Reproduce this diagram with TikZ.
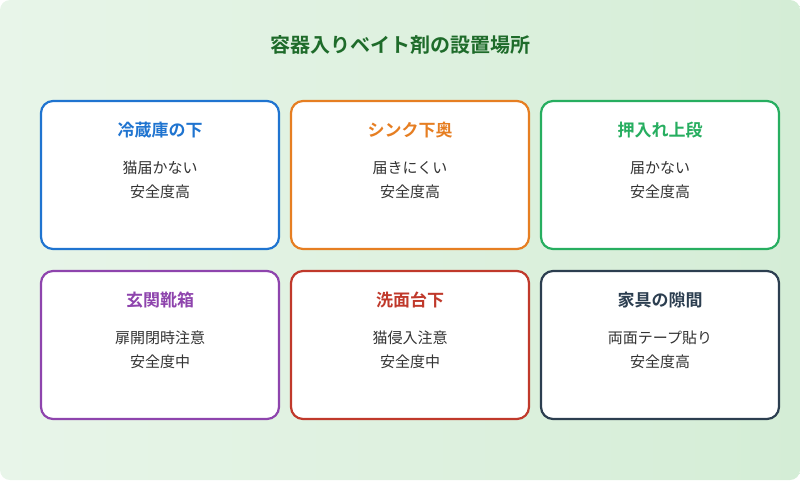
\documentclass[tikz,border=0pt]{standalone}
\usepackage{fontspec}
\setmainfont{Noto Sans CJK JP}
\newfontfamily\jpb{Noto Sans CJK JP Bold}
\definecolor{cblue}{HTML}{1F74D0}
\definecolor{corange}{HTML}{E67E22}
\definecolor{cgreen}{HTML}{27AE60}
\definecolor{cpurple}{HTML}{8E44AD}
\definecolor{cred}{HTML}{C0392B}
\definecolor{cdark}{HTML}{2C3E50}
\definecolor{ctitle}{HTML}{1E6B2A}
\definecolor{bgA}{HTML}{E8F5E9}
\definecolor{bgB}{HTML}{D4EDD6}
\definecolor{body}{HTML}{333333}
\begin{document}
\begin{tikzpicture}[x=1pt,y=-1pt,
 card/.style={draw=#1,line width=2.2pt,fill=white,rounded corners=12pt,minimum width=238pt,minimum height=148pt,inner sep=0pt},
 ctitle/.style={text=#1,font=\jpb\fontsize{17}{20}\selectfont},
 cbody/.style={text=body,font=\fontsize{15}{24}\selectfont,align=center}]
\useasboundingbox (0,0) rectangle (800,480);
\shade[left color=bgA,right color=bgB,rounded corners=10pt] (0,0) rectangle (800,480);
\node[text=ctitle,font=\jpb\fontsize{20}{24}\selectfont] (title) at (400,45) {容器入りベイト剤の設置場所};
\foreach \n/\x/\y/\c/\t/\a/\b in {
 a/160/175/cblue/冷蔵庫の下/猫届かない/安全度高,
 b/410/175/corange/シンク下奥/届きにくい/安全度高,
 c/660/175/cgreen/押入れ上段/届かない/安全度高,
 d/160/345/cpurple/玄関靴箱/扉開閉時注意/安全度中,
 e/410/345/cred/洗面台下/猫侵入注意/安全度中,
 f/660/345/cdark/家具の隙間/両面テープ貼り/安全度高}{
 \node[card=\c] (\n) at (\x,\y) {};
 \node[ctitle=\c] (\n t) at (\x,\y-45) {\t};
 \node[cbody] (\n b) at (\x,\y+5) {\a\\\b};
}
\end{tikzpicture}
\end{document}
